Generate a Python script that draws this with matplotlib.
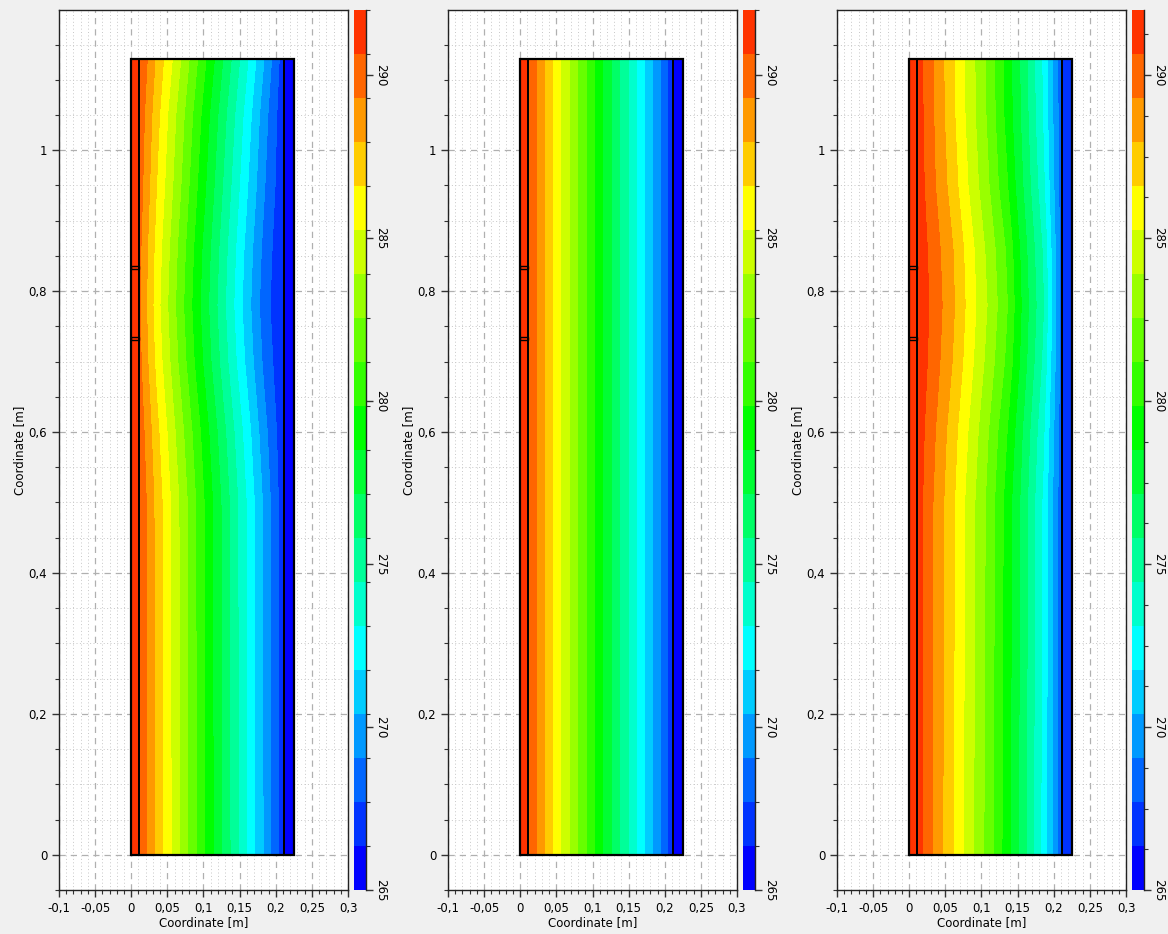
import numpy as np
import matplotlib
matplotlib.use("Agg")
import matplotlib.pyplot as plt
from matplotlib.colors import ListedColormap, BoundaryNorm
from matplotlib.ticker import MultipleLocator, FuncFormatter
from matplotlib.patches import Rectangle
from matplotlib.cm import ScalarMappable

# ---------------- data ----------------
# colour scale (20 bands)
t_min, t_max, n_bands = 265.0, 292.0, 20
band_colors = ['#0000ff', '#0033ff', '#0066ff', '#0099ff', '#00ccff', '#00ffff',
               '#00ffcc', '#00ff99', '#00ff66', '#00ff33', '#00ff00', '#33ff00',
               '#66ff00', '#99ff00', '#ccff00', '#ffff00', '#ffcc00', '#ff9900',
               '#ff6600', '#ff3300']
cbar_ticks = [265, 270, 275, 280, 285, 290]

# geometry of the wall (m)
layer_edges = [0.0, 0.011, 0.211, 0.225]
wall_height = 1.13
gap_y = [0.731, 0.831]
gap_h = 0.004

# main layer sample grid
x_main = [0.011, 0.035, 0.06, 0.085, 0.11, 0.135, 0.16, 0.185, 0.211]
y_rows = [0.0, 0.5, 0.6, 0.7, 0.78, 0.86, 0.95, 1.05, 1.13]

T_main_1 = [
    [290.6, 287.6, 284.7, 281.8, 278.9, 276.0, 273.1, 270.1, 266.8],
    [290.55, 287.5, 284.6, 281.7, 278.8, 275.9, 273.0, 270.0, 266.8],
    [290.2, 287.0, 284.0, 281.1, 278.2, 275.3, 272.4, 269.4, 266.65],
    [289.7, 286.2, 283.1, 280.1, 277.2, 274.3, 271.4, 268.6, 266.45],
    [289.5, 285.85, 282.7, 279.7, 276.8, 273.9, 271.0, 268.2, 266.4],
    [289.65, 286.1, 283.0, 280.0, 277.1, 274.2, 271.3, 268.5, 266.4],
    [290.0, 286.6, 283.6, 280.6, 277.7, 274.8, 271.9, 269.05, 266.55],
    [290.25, 287.1, 284.1, 281.2, 278.3, 275.4, 272.5, 269.5, 266.65],
    [290.7, 287.7, 284.9, 282.0, 279.1, 276.2, 273.3, 270.25, 266.9],
]
T_main_2 = [
    [290.7, 287.8, 284.9, 282.0, 279.1, 276.2, 273.3, 270.3, 266.9],
    [290.7, 287.8, 284.9, 282.0, 279.1, 276.2, 273.3, 270.3, 266.9],
    [290.7, 287.8, 284.9, 282.0, 279.1, 276.2, 273.3, 270.3, 266.9],
    [290.7, 287.8, 284.9, 282.0, 279.1, 276.2, 273.3, 270.3, 266.9],
    [290.7, 287.8, 284.9, 282.0, 279.1, 276.2, 273.3, 270.3, 266.9],
    [290.7, 287.8, 284.9, 282.0, 279.1, 276.2, 273.3, 270.3, 266.9],
    [290.7, 287.8, 284.9, 282.0, 279.1, 276.2, 273.3, 270.3, 266.9],
    [290.7, 287.8, 284.9, 282.0, 279.1, 276.2, 273.3, 270.3, 266.9],
    [290.7, 287.8, 284.9, 282.0, 279.1, 276.2, 273.3, 270.3, 266.9],
]
T_main_3 = [
    [291.3, 289.0, 286.7, 284.3, 281.9, 279.1, 276.1, 272.7, 268.0],
    [291.35, 289.1, 286.85, 284.45, 282.1, 279.3, 276.3, 272.9, 268.05],
    [291.5, 289.4, 287.2, 284.9, 282.5, 279.9, 276.7, 273.4, 268.2],
    [291.7, 289.9, 287.9, 285.6, 283.3, 280.9, 277.5, 274.2, 268.4],
    [291.8, 290.1, 288.2, 285.9, 283.7, 281.3, 277.8, 274.6, 268.5],
    [291.7, 289.9, 288.0, 285.7, 283.4, 281.0, 277.5, 274.3, 268.4],
    [291.5, 289.4, 287.3, 284.9, 282.6, 280.0, 276.8, 273.5, 268.2],
    [291.4, 289.2, 286.9, 284.5, 282.2, 279.4, 276.4, 273.0, 268.1],
    [291.35, 289.1, 286.85, 284.45, 282.1, 279.3, 276.3, 272.9, 268.05],
]
# inner layer (x=0, x=0.011) and outer layer (x=0.211, x=0.225) temperatures
T_inner_1 = [291.6, 291.0]
T_inner_2 = [291.6, 291.0]
T_inner_3 = [291.8, 291.3]
T_outer_1 = [266.0, 265.4]
T_outer_2 = [266.0, 265.4]
T_outer_3 = [267.3, 266.5]

panels = [
    (T_main_1, T_inner_1, T_outer_1),
    (T_main_2, T_inner_2, T_outer_2),
    (T_main_3, T_inner_3, T_outer_3),
]

# ---------------- drawing ----------------
plt.rcParams['font.family'] = ['DejaVu Sans']
W, H = 1168, 934
fig = plt.figure(figsize=(W / 100, H / 100), dpi=100, facecolor='#f0f0f0')

levels = np.linspace(t_min, t_max, n_bands + 1)
cmap = ListedColormap(band_colors)
norm = BoundaryNorm(levels, cmap.N)


def comma_fmt(v, pos):
    s = f"{v:.2f}".rstrip('0').rstrip('.')
    if s == '-0':
        s = '0'
    return s.replace('.', ',')


def y_fmt(v, pos):
    k = v / 0.2
    if abs(k - round(k)) < 1e-6:
        return comma_fmt(v, pos)
    return ''


fs = 8.5
for i, (Tm, Ti, To) in enumerate(panels):
    left = 59 + 389 * i
    ax = fig.add_axes([left / W, 44 / H, 289 / W, 880 / H])
    ax.set_facecolor('white')
    ax.set_xlim(-0.1, 0.3)
    ax.set_ylim(-0.05, 1.199)

    ax.xaxis.set_major_locator(MultipleLocator(0.05))
    ax.xaxis.set_minor_locator(MultipleLocator(0.01))
    ax.yaxis.set_major_locator(MultipleLocator(0.2))
    ax.yaxis.set_minor_locator(MultipleLocator(0.05))
    ax.xaxis.set_major_formatter(FuncFormatter(comma_fmt))
    ax.yaxis.set_major_formatter(FuncFormatter(y_fmt))
    ax.tick_params(which='major', length=5, width=1, labelsize=fs, direction='out', color='#333333')
    ax.tick_params(which='minor', length=3, width=0.8, direction='out', color='#333333')
    ax.set_axisbelow(True)
    ax.grid(which='major', ls=(0, (5, 4)), color='#b0b0b0', lw=0.9)
    ax.grid(which='minor', ls=(0, (1, 2.5)), color='#c8c8c8', lw=0.7)
    for sp in ax.spines.values():
        sp.set_color('#222222')
        sp.set_linewidth(1.0)

    # inner layer
    ax.contourf([layer_edges[0], layer_edges[1]], [0, wall_height], [Ti, Ti],
                levels=levels, cmap=cmap, norm=norm, zorder=2)
    # main layer
    ax.contourf(x_main, y_rows, np.array(Tm), levels=levels, cmap=cmap, norm=norm, zorder=2)
    # outer layer
    ax.contourf([layer_edges[2], layer_edges[3]], [0, wall_height], [To, To],
                levels=levels, cmap=cmap, norm=norm, zorder=2)

    # outlines
    for a, b in zip(layer_edges[:-1], layer_edges[1:]):
        ax.add_patch(Rectangle((a, 0), b - a, wall_height, fill=False,
                               ec='black', lw=1.3, zorder=3))
    ax.add_patch(Rectangle((layer_edges[0], 0), layer_edges[-1] - layer_edges[0], wall_height,
                           fill=False, ec='black', lw=1.6, zorder=4))
    for gy in gap_y:
        ax.add_patch(Rectangle((layer_edges[0], gy), layer_edges[1] - layer_edges[0], gap_h,
                               fill=False, ec='black', lw=1.0, zorder=4))

    ax.set_xlabel('Coordinate [m]', fontsize=fs, labelpad=1)
    ax.set_ylabel('Coordinate [m]', fontsize=fs, labelpad=2)

    # colour bar
    cax = fig.add_axes([(354 + 389 * i) / W, 44 / H, 12 / W, 880 / H])
    sm = ScalarMappable(norm=norm, cmap=cmap)
    cb = fig.colorbar(sm, cax=cax, ticks=cbar_ticks)
    cb.outline.set_visible(False)
    cax.spines['right'].set_visible(True)
    cax.spines['right'].set_color('#222222')
    cax.spines['right'].set_linewidth(1.0)
    cax.yaxis.set_minor_locator(MultipleLocator(1.25))
    cax.tick_params(which='major', length=5, width=1, labelsize=fs, color='#333333',
                    labelrotation=-90, pad=1)
    cax.tick_params(which='minor', length=3, width=0.8, color='#333333')
    for lab in cax.get_yticklabels():
        lab.set_va('center')

fig.savefig('out.png', dpi=100, facecolor=fig.get_facecolor())
